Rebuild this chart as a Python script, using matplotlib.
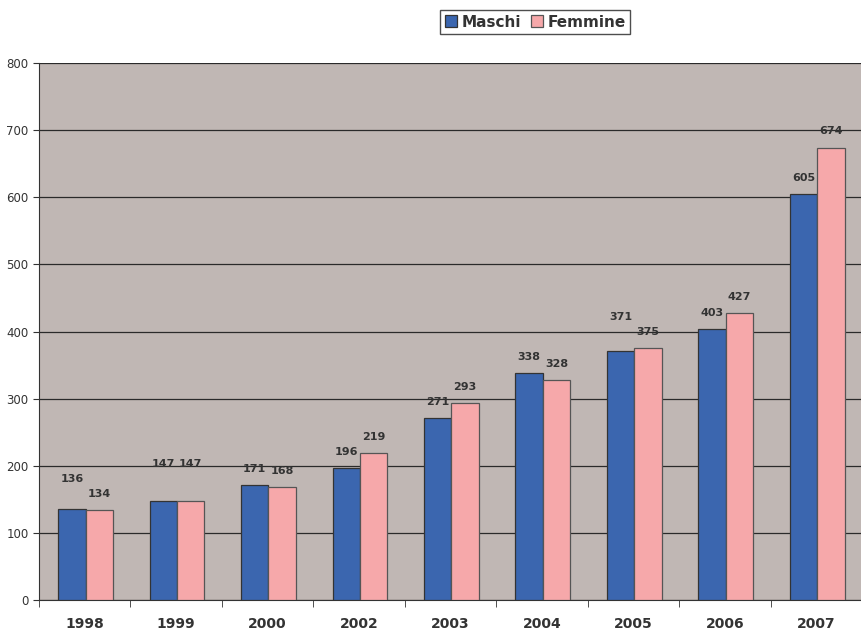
import numpy as np
import matplotlib.pyplot as plt

years = ["1998", "1999", "2000", "2002", "2003", "2004", "2005", "2006", "2007"]
maschi = [136, 147, 171, 196, 271, 338, 371, 403, 605]
femmine = [134, 147, 168, 219, 293, 328, 375, 427, 674]

blue = "#3B66AF"
pink = "#F6A8AA"
text_col = "#333333"

# some labels sit higher in the original (avoid overlapping), extra points up
label_nudge = {("Maschi", "1998"): 10, ("Maschi", "1999"): 15,
               ("Femmine", "1999"): 15, ("Maschi", "2005"): 13}

fig = plt.figure(figsize=(8.62, 6.3), dpi=100)
ax = fig.add_axes([0.0452, 0.0476, 0.9548, 0.8524])
ax.set_facecolor("#C0B7B4")

x = np.arange(len(years))
w = 0.3
b1 = ax.bar(x - w / 2 + 0.01, maschi, w, color=blue, edgecolor="#333333", linewidth=0.9,
            label="Maschi", zorder=3)
b2 = ax.bar(x + w / 2 + 0.01, femmine, w, color=pink, edgecolor="#555555", linewidth=0.9,
            label="Femmine", zorder=3)

# value labels above the bars
for name, rects, vals in (("Maschi", b1, maschi), ("Femmine", b2, femmine)):
    for yr, r, v in zip(years, rects, vals):
        dy = 8 + label_nudge.get((name, yr), 0)
        ax.annotate(str(v), (r.get_x() + r.get_width() / 2, v), xytext=(0, dy),
                    textcoords="offset points", ha="center", va="bottom",
                    fontsize=8, fontweight="bold", color=text_col)

ax.set_xlim(-0.5, len(years) - 0.5)
ax.set_ylim(0, 800)
ax.set_yticks(range(0, 801, 100))
ax.yaxis.grid(True, color="#2a2a2a", linewidth=0.9, zorder=1)
ax.set_axisbelow(True)

ax.set_xticks(x)
ax.set_xticklabels(years, fontsize=10, fontweight="bold", color=text_col)
ax.set_xticks(np.arange(-0.5, len(years), 1), minor=True)
ax.tick_params(axis="x", which="major", length=0, pad=12)
ax.tick_params(axis="x", which="minor", length=5, color="#333333")
ax.tick_params(axis="y", length=4, labelsize=8.5, labelcolor=text_col, color="#333333")

for s in ("top", "right"):
    ax.spines[s].set_visible(False)
for s in ("left", "bottom"):
    ax.spines[s].set_color("#333333")

leg = fig.legend(loc="center", bbox_to_anchor=(0.621, 0.965), ncol=2,
                 prop={"weight": "bold", "size": 11}, frameon=True, fancybox=False,
                 edgecolor="#222222", handlelength=0.8, handleheight=0.8,
                 handletextpad=0.3, columnspacing=0.6, borderpad=0.3)
leg.get_frame().set_linewidth(1.0)
for t in leg.get_texts():
    t.set_color(text_col)

fig.savefig("out.png", dpi=100)
